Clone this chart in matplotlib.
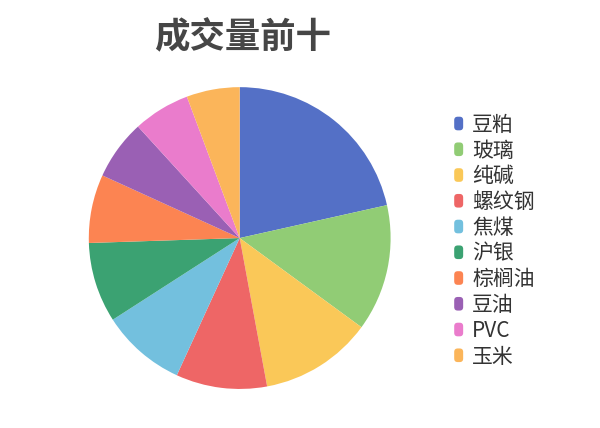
import matplotlib
matplotlib.use("Agg")
from matplotlib import pyplot as plt
from matplotlib.patches import FancyBboxPatch, Wedge
from matplotlib.legend_handler import HandlerPatch

plt.rcParams['font.family'] = ['Noto Sans CJK SC', 'DejaVu Sans']

# share of volume (%)
names = ['豆粕', '玻璃', '纯碱', '螺纹钢', '焦煤', '沪银', '棕榈油', '豆油', 'PVC', '玉米']
shares = [21.5, 13.56, 12.03, 9.75, 9.06, 8.58, 7.33, 6.42, 6.08, 5.69]
colors = ['#5470c6', '#91cc75', '#fac858', '#ee6666', '#73c0de',
          '#3ba272', '#fc8452', '#9a60b4', '#ea7ccc', '#fbb55a']


class RoundHandler(HandlerPatch):
    def create_artists(self, legend, orig_handle, xdescent, ydescent,
                       width, height, fontsize, trans):
        p = FancyBboxPatch((-xdescent, -ydescent), width, height,
                           boxstyle="round,pad=0,rounding_size=2.5",
                           facecolor=orig_handle.get_facecolor(),
                           edgecolor='none', transform=trans)
        return [p]


fig = plt.figure(figsize=(6, 4.28), dpi=100)
ax = fig.add_axes([0.148, 0.091, 0.503, 0.7056])
wedges, _ = ax.pie(shares, colors=colors, startangle=90, counterclock=False,
                   radius=1, wedgeprops=dict(linewidth=0))
ax.set_xlim(-1, 1)
ax.set_ylim(-1, 1)
ax.set_aspect('equal')
ax.axis('off')

fig.text(0.404, 0.912, '成交量前十', ha='center', va='center',
         fontsize=25.5, fontweight='bold', color='#464646')

leg = fig.legend(wedges, names, loc='upper left', bbox_to_anchor=(0.757, 0.734),
                 frameon=False, fontsize=15, handlelength=0.43, handleheight=0.63,
                 handletextpad=0.43, labelspacing=0.18, borderpad=0,
                 borderaxespad=0,
                 handler_map={Wedge: RoundHandler()})
for t in leg.get_texts():
    t.set_color('#333333')

fig.savefig('out.png', dpi=100)
